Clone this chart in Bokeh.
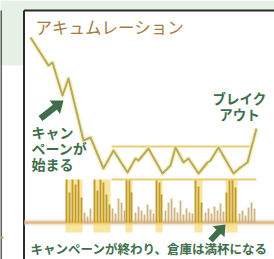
import numpy as np
from bokeh.plotting import figure
from bokeh.models import Range1d
from bokeh.core.properties import value
from bokeh.embed import file_html
from bokeh.resources import INLINE

# ---- data (time index, price level; baseline of volume = 0) ----
price_t = [0, 18, 22, 32, 38, 53, 60, 73, 83, 97, 105, 108, 118, 132, 140, 145,
           153, 158, 168, 177, 180, 188, 203, 210, 217, 226]
price_v = [185, 157, 160, 127, 144, 82, 85, 54, 72, 50, 64, 62, 74, 49, 57, 75,
           60, 64, 49, 60, 62, 75, 49, 55, 60, 94]

resistance = 76
support = 43
range_start, range_end = 81, 222

# campaign (high-volume) windows
col_start = [35, 63, 95, 125, 164, 195]
col_end = [52, 80, 102, 132, 172, 207]

vol_t = [36, 39, 42, 45, 48, 51, 54, 57, 60, 64, 67, 70, 73, 76, 79, 82, 85, 88, 91, 94,
         96, 99, 101, 105, 108, 111, 114, 117, 120, 123, 126, 129, 131, 135, 138, 141,
         144, 147, 150, 153, 156, 159, 162, 165, 168, 171, 175, 178, 181, 184, 187, 190,
         193, 196, 199, 202, 205, 209, 212, 215, 218, 221, 224]
vol_h = [43, 30, 43, 38, 43, 25, 10, 6, 14, 43, 32, 43, 40, 28, 18, 14, 9, 24, 20, 12,
         43, 43, 30, 10, 16, 12, 8, 18, 13, 9, 43, 40, 28, 12, 20, 24,
         15, 10, 22, 8, 14, 10, 9, 43, 36, 20, 10, 14, 9, 16, 12, 19,
         11, 30, 43, 43, 35, 9, 12, 7, 15, 20, 14]

title = "アキュムレーション"
label_start = ["キャン", "ペーンが", "始まる"]
label_break = ["ブレイク", "アウト"]
label_bottom = "キャンペーンが終わり、倉庫は満杯になる"

GREEN = "#3e6e4b"
FONT = value("Noto Sans CJK JP")

p = figure(width=274, height=259, output_backend="svg", toolbar_location=None,
           x_range=Range1d(-30, 244), y_range=Range1d(-37, 222), min_border=0)
p.axis.visible = False
p.grid.visible = False
p.outline_line_color = None
p.background_fill_color = "white"
p.border_fill_color = "white"

# page background pieces (left strip / top strip)
p.quad(left=-30, right=-7, bottom=157, top=222, fill_color="#e6f1e6", line_color=None)
p.quad(left=-30, right=244, bottom=212, top=222, fill_color="#e6f1e6", line_color=None)
p.line(x=[-29.5, -29.5], y=[-37, 212], line_color="#2b2b2b", line_width=1.5)
p.line(x=[-30, -27], y=[-15, -15], line_color="#c8a060", line_width=2)
# panel border
p.line(x=[-6.5, -6.5], y=[-37, 212], line_color="#2b2b2b", line_width=2)
p.line(x=[-6.5, 244], y=[212, 212], line_color="#2b2b2b", line_width=2)

# volume baseline
p.line(x=[-6, 244], y=[0, 0], line_color="#f3dcc0", line_width=6, line_alpha=0.7)
p.line(x=[-6, 244], y=[0, 0], line_color="#dfb98c", line_width=2.5)

# campaign windows (glow)
p.quad(left=col_start, right=col_end, bottom=-10, top=support,
       fill_color="#f2d04e", fill_alpha=0.55, line_color=None)

# volume bars
vcol = []
for t in vol_t:
    inside = any(s <= t <= e for s, e in zip(col_start, col_end))
    vcol.append("#c09a2a" if inside else "#cdb27c")
p.vbar(x=vol_t, width=1.8, bottom=0, top=vol_h, fill_color=vcol, line_color=None)

# support / resistance
p.line(x=[range_start, range_end + 4], y=[support, support], line_color="#eccb70", line_width=2)
p.line(x=[range_start, range_end], y=[resistance, resistance], line_color="#eccb70", line_width=2)

# price line
p.line(x=price_t, y=price_v, line_color="#f4eba0", line_width=5, line_alpha=0.6, line_join="round")
p.line(x=price_t, y=price_v, line_color="#b6a961", line_width=2, line_join="round")

# arrows
def arrow(x0, y0, x1, y1, shaft=3.2, head=8.5, hlen=11):
    d = np.array([x1 - x0, y1 - y0], float)
    L = np.hypot(*d)
    u = d / L
    n = np.array([-u[1], u[0]])
    b = np.array([x0, y0], float)
    tip = np.array([x1, y1], float)
    hb = tip - u * hlen
    pts = [b + n * shaft, hb + n * shaft, hb + n * head, tip,
           hb - n * head, hb - n * shaft, b - n * shaft]
    return [q[0] for q in pts], [q[1] for q in pts]

ax, ay = arrow(10, 104, 33, 122)
p.patch(ax, ay, fill_color=GREEN, line_color=None)
bx, by = arrow(180, -18, 195, -2, shaft=3, head=8, hlen=10)
p.patch(bx, by, fill_color=GREEN, line_color=None)

# texts
p.text(x=[5], y=[196], text=[title], text_font=FONT, text_font_size="16.5px",
       text_color="#a87b3e", text_baseline="middle", text_align="left")
p.text(x=[1, 1, 1], y=[91, 75, 59], text=label_start, text_font=FONT,
       text_font_size="14px", text_font_style="bold", text_color=GREEN,
       text_baseline="middle", text_align="left")
p.text(x=[209, 209], y=[125, 109], text=label_break, text_font=FONT,
       text_font_size="13.5px", text_font_style="bold", text_color=GREEN,
       text_baseline="middle", text_align="center")
p.text(x=[0], y=[-26], text=[label_bottom], text_font=FONT, text_font_size="12.5px",
       text_font_style="bold", text_color=GREEN, text_baseline="middle", text_align="left")

open("out.html", "w").write(file_html(p, INLINE))
